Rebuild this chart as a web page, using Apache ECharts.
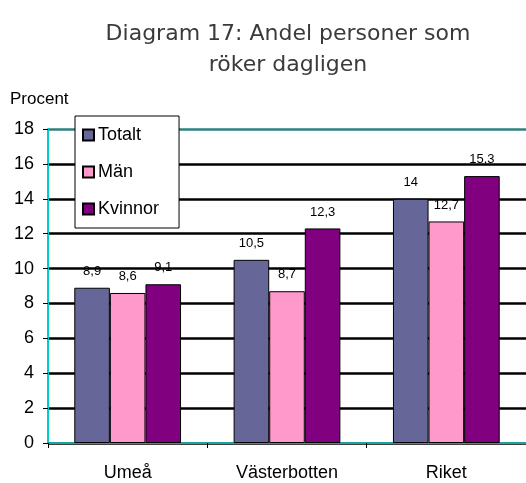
<!DOCTYPE html>
<html>
<head>
<meta charset="utf-8">
<title>Diagram 17</title>
<script type="text/javascript" src="https://cdn.jsdelivr.net/npm/echarts@6/dist/echarts.min.js"></script>
<style>
html, body { margin: 0; padding: 0; background: #fff; }
#main { width: 526px; height: 483px; }
</style>
</head>
<body>
<div id="main"></div>
<script type="text/javascript">
	// data
	var categories = ['Umeå', 'Västerbotten', 'Riket'];
	var totalt = [8.9, 10.5, 14];
	var man = [8.6, 8.7, 12.7];
	var kvinnor = [9.1, 12.3, 15.3];
	var seriesNames = ['Totalt', 'Män', 'Kvinnor'];
	var colors = ['#666699', '#ff99cc', '#800080'];

	var myChart = echarts.init(document.getElementById('main'));

	function bar(name, data, color) {
		return {
			name: name,
			type: 'bar',
			data: data,
			barGap: 0,
			barCategoryGap: '33%',
			itemStyle: { color: color, borderColor: '#000', borderWidth: 1 },
			label: {
				show: true,
				position: 'top',
				distance: 10,
				color: '#000',
				fontSize: 13,
				fontFamily: 'Liberation Sans',
				formatter: function (p) { return String(p.value).replace('.', ','); }
			}
		};
	}

	var option = {
		animation: false,
		backgroundColor: '#fff',
		title: {
			text: 'Diagram 17: Andel personer som\nröker dagligen',
			left: 283,
			textAlign: 'center',
			top: 14,
			textStyle: {
				fontFamily: 'DejaVu Sans',
				fontWeight: 'normal',
				fontSize: 22,
				color: '#3a3a3a',
				lineHeight: 31
			}
		},
		legend: {
			orient: 'vertical',
			left: 75,
			top: 116,
			data: seriesNames,
			backgroundColor: '#fff',
			borderColor: '#000',
			borderWidth: 1,
			padding: [10, 20, 10, 7],
			itemGap: 19,
			itemWidth: 11,
			itemHeight: 11,
			icon: 'rect',
			textStyle: { fontFamily: 'Liberation Sans', fontSize: 18, color: '#000', padding: [0, 0, 0, -1] }
		},
		grid: { left: 48, right: 0, top: 129, bottom: 40 },
		xAxis: {
			type: 'category',
			data: categories,
			axisLine: { lineStyle: { color: '#1aa3a3', width: 2 } },
			axisTick: { show: true, length: 5, lineStyle: { color: '#000' } },
			axisLabel: { color: '#000', fontSize: 18, fontFamily: 'Liberation Sans', margin: 21 }
		},
		yAxis: {
			type: 'value',
			name: 'Procent',
			nameLocation: 'end',
			nameGap: 21,
			nameTextStyle: { color: '#000', fontSize: 17, fontFamily: 'Liberation Sans', align: 'left', padding: [0, 0, 0, -38] },
			min: 0,
			max: 18,
			interval: 2,
			axisLine: { show: true, lineStyle: { color: '#00cccc', width: 2 } },
			axisTick: { show: true, length: 5, lineStyle: { color: '#000' } },
			axisLabel: { color: '#000', fontSize: 18, fontFamily: 'Liberation Sans', margin: 14 },
			splitLine: {
				show: true,
				lineStyle: {
					color: ['#000', '#000', '#000', '#000', '#000', '#000', '#000', '#000', '#000', '#2e7f7f'],
					width: 2.5
				}
			}
		},
		series: [
			bar(seriesNames[0], totalt, colors[0]),
			bar(seriesNames[1], man, colors[1]),
			bar(seriesNames[2], kvinnor, colors[2])
		]
	};

	myChart.setOption(option);
</script>
</body>
</html>
